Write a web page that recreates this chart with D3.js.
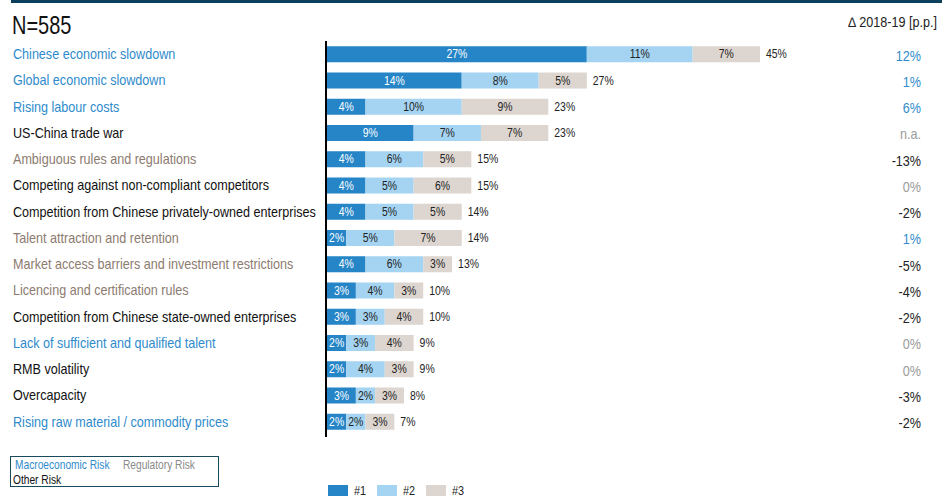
<!DOCTYPE html>
<html>
<head>
<meta charset="utf-8">
<script src="https://cdn.jsdelivr.net/npm/d3@7"></script>
<style>
  html, body { margin: 0; padding: 0; background: #fff; }
  svg { display: block; }
  text { font-family: "Liberation Sans", Arial, sans-serif; }
</style>
</head>
<body>
<svg id="chart" width="942" height="496"></svg>
<script>
// Business risks, share of respondents naming each as #1, #2 or #3 risk
const risks = [
  "Chinese economic slowdown",
  "Global economic slowdown",
  "Rising labour costs",
  "US-China trade war",
  "Ambiguous rules and regulations",
  "Competing against non-compliant competitors",
  "Competition from Chinese privately-owned enterprises",
  "Talent attraction and retention",
  "Market access barriers and investment restrictions",
  "Licencing and certification rules",
  "Competition from Chinese state-owned enterprises",
  "Lack of sufficient and qualified talent",
  "RMB volatility",
  "Overcapacity",
  "Rising raw material / commodity prices"
];
const riskType = ["macro", "macro", "macro", "other", "regulatory", "other", "other",
  "regulatory", "regulatory", "regulatory", "other", "macro", "other", "other", "macro"];
const rank1 = [27, 14, 4, 9, 4, 4, 4, 2, 4, 3, 3, 2, 2, 3, 2];
const rank2 = [11, 8, 10, 7, 6, 5, 5, 5, 6, 4, 3, 3, 4, 2, 2];
const rank3 = [7, 5, 9, 7, 5, 6, 5, 7, 3, 3, 4, 4, 3, 3, 3];
const totals = [45, 27, 23, 23, 15, 15, 14, 14, 13, 10, 10, 9, 9, 8, 7];
const change = ["12%", "1%", "6%", "n.a.", "-13%", "0%", "-2%", "1%", "-5%", "-4%", "-2%", "0%", "0%", "-3%", "-2%"];
const rankNames = ["#1", "#2", "#3"];
const typeNames = ["Macroeconomic Risk", "Regulatory Risk", "Other Risk"];

const rankColor = ["#2585c7", "#a4d4f2", "#ddd5cf"];
const typeColor = { macro: "#2f8bcb", regulatory: "#8c7b6f", other: "#111" };

const svg = d3.select("#chart");

// condensed text: glyphs squeezed horizontally around their anchor point
function label(parent, x, y, str, size, sx, opts = {}) {
  const t = parent.append("text")
    .attr("transform", `translate(${x},${y}) scale(${sx},1)`)
    .attr("font-size", size)
    .attr("fill", opts.fill || "#222")
    .attr("text-anchor", opts.anchor || "start")
    .text(str);
  if (opts.dy) t.attr("dy", opts.dy);
  return t;
}

const table = risks.map((name, i) => ({
  name, type: riskType[i], vals: [rank1[i], rank2[i], rank3[i]], total: totals[i], change: change[i]
}));

const x = d3.scaleLinear().domain([0, 45]).range([327, 760]);
const y = d3.scaleBand().domain(risks).range([41, 435]).paddingInner(0.39).paddingOuter(0.2);
const bh = y.bandwidth();

// top rule
svg.append("rect").attr("x", 11).attr("y", 0).attr("width", 931).attr("height", 3).attr("fill", "#0b3f5c");

label(svg, 12, 34, "N=585", 25, 0.8, { fill: "#111" });
label(svg, 937, 27, "\u2206 2018-19 [p.p.]", 14, 0.9, { anchor: "end", fill: "#222" });

const rows = svg.append("g").selectAll("g").data(table).join("g")
  .attr("transform", d => `translate(0,${y(d.name)})`);

rows.each(function (d) {
  const g = d3.select(this);
  const cy = bh / 2;
  label(g, 13, cy, d.name, 14, 0.9, { fill: typeColor[d.type], dy: "0.35em" });

  let acc = 0;
  d.vals.forEach((v, k) => {
    const x0 = x(acc), x1 = x(acc + v);
    g.append("rect").attr("x", x0).attr("y", 0).attr("width", x1 - x0).attr("height", bh)
      .attr("fill", rankColor[k]);
    label(g, (x0 + x1) / 2, cy, v + "%", 12, 0.87,
      { anchor: "middle", fill: k === 0 ? "#fff" : "#222", dy: "0.35em" });
    acc += v;
  });
  label(g, x(acc) + 6, cy, d.total + "%", 12, 0.87, { fill: "#222", dy: "0.35em" });

  const c = parseFloat(d.change);
  const cFill = (d.change === "n.a." || c === 0) ? "#9a9a9a" : (c > 0 ? "#2f8bcb" : "#222");
  label(g, 921, cy, d.change, 14, 0.9, { anchor: "end", fill: cFill, dy: "0.45em" });
});

// baseline
svg.append("line").attr("x1", 326).attr("x2", 326).attr("y1", 41).attr("y2", 437)
  .attr("stroke", "#000").attr("stroke-width", 2);

// risk type legend
const lg = svg.append("g");
lg.append("rect").attr("x", 10.5).attr("y", 456.5).attr("width", 208).attr("height", 30)
  .attr("fill", "none").attr("stroke", "#1a4a5e").attr("stroke-width", 1);
label(lg, 15, 469, typeNames[0], 12, 0.85, { fill: typeColor.macro });
label(lg, 123, 469, typeNames[1], 12, 0.85, { fill: "#8a8a8a" });
label(lg, 13, 484, typeNames[2], 12, 0.85, { fill: "#111" });

// rank legend
const rl = svg.append("g").selectAll("g").data(rankNames).join("g")
  .attr("transform", (d, i) => `translate(${328 + i * 49},485)`);
rl.append("rect").attr("width", 20).attr("height", 12).attr("fill", (d, i) => rankColor[i]);
rl.each(function (d) { label(d3.select(this), 26, 10, d, 12.5, 0.87, { fill: "#222" }); });
</script>
</body>
</html>
